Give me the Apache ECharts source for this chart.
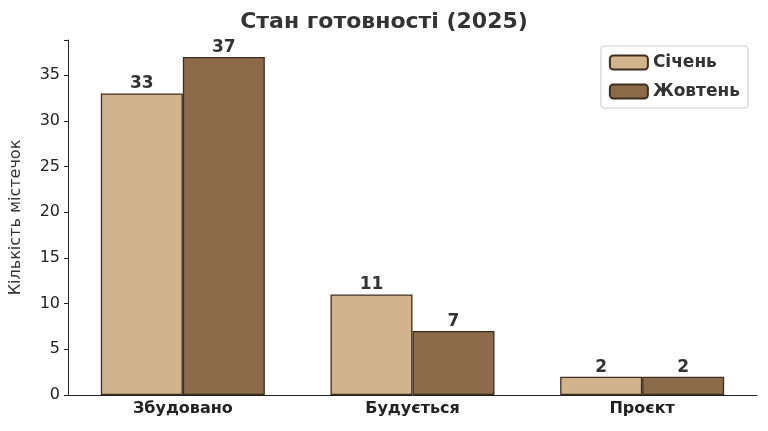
<!DOCTYPE html>
<html><head><meta charset="utf-8">
<script src="https://cdn.jsdelivr.net/npm/echarts@6/dist/echarts.min.js"></script>
<style>html,body{margin:0;padding:0;background:#fff}#c{width:768px;height:431px}</style>
</head><body><div id="c"></div>
<script>
const categories = ['Збудовано', 'Будується', 'Проєкт'];
const january = [33, 11, 2];
const october = [37, 7, 2];
const yTicks = [0, 5, 10, 15, 20, 25, 30, 35];

const chart = echarts.init(document.getElementById('c'));
const lbl = {show: true, position: 'top', distance: 1, fontSize: 17, fontWeight: 'bold', color: '#333', fontFamily: 'DejaVu Sans'};
chart.setOption({
  animation: false,
  title: {text: 'Стан готовності (2025)', left: 'center', top: 6, textStyle: {fontSize: 22, fontWeight: 'bold', color: '#333', fontFamily: 'DejaVu Sans'}},
  legend: {
    right: 20, top: 46, orient: 'vertical', itemWidth: 38, itemHeight: 14, itemGap: 12,
    borderColor: '#ccc', borderWidth: 1, borderRadius: 3, padding: [8, 8, 8, 8],
    textStyle: {fontSize: 17, fontWeight: 'bold', color: '#333', fontFamily: 'DejaVu Sans'}
  },
  grid: {left: 66, right: 11, top: 40, bottom: 36},
  xAxis: {
    type: 'category', data: categories,
    axisLine: {lineStyle: {color: '#222'}}, axisTick: {show: false},
    axisLabel: {fontSize: 16, fontWeight: 'bold', color: '#222', margin: 6, fontFamily: 'DejaVu Sans'}
  },
  yAxis: {
    type: 'value', min: 0, max: 38.85, interval: 5,
    name: 'Кількість містечок', nameLocation: 'middle', nameGap: 44,
    nameTextStyle: {fontSize: 16, color: '#333', fontFamily: 'DejaVu Sans'},
    axisLine: {show: true, lineStyle: {color: '#222'}}, axisTick: {show: true, length: 4},
    splitLine: {show: false},
    axisLabel: {fontSize: 16, color: '#222', fontFamily: 'DejaVu Sans',
      formatter: v => yTicks.includes(v) ? String(v) : ''}
  },
  series: [
    {name: 'Січень', type: 'bar', data: january, barWidth: 82, barGap: '0%',
     itemStyle: {color: '#D2B48C', borderColor: '#3e2e1e', borderWidth: 1.3}, label: lbl},
    {name: 'Жовтень', type: 'bar', data: october, barWidth: 82,
     itemStyle: {color: '#8B6B4A', borderColor: '#3e2e1e', borderWidth: 1.3}, label: lbl}
  ]
});
</script></body></html>
